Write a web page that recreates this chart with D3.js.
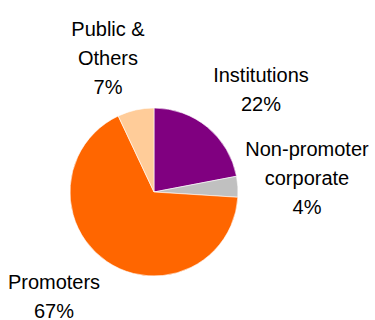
<!DOCTYPE html>
<html>
<head>
<meta charset="utf-8">
<script src="https://cdn.jsdelivr.net/npm/d3@7"></script>
<style>
  html, body { margin: 0; padding: 0; background: #fff; }
  svg { display: block; font-family: "Liberation Sans", Arial, sans-serif; }
</style>
</head>
<body>
<svg id="chart" width="375" height="320"></svg>
<script>
// Shareholding pattern, slices drawn clockwise from 12 o'clock
const categories = ["Institutions", "Non-promoter corporate", "Promoters", "Public & Others"];
const shares = [22, 4, 67, 7];
const colors = ["#800080", "#C0C0C0", "#FF6600", "#FFCC99"];
// Label lines for each slice (value line is appended from shares)
const labelLines = [["Institutions"], ["Non-promoter", "corporate"], ["Promoters"], ["Public &", "Others"]];

const svg = d3.select("#chart");
const cx = 154, cy = 192, r = 84;

const pie = d3.pie().sort(null).value(d => d.value);
const arc = d3.arc().innerRadius(0).outerRadius(r);
const data = categories.map((c, i) => ({ name: c, value: shares[i], color: colors[i], lines: labelLines[i] }));
const arcs = pie(data);

const g = svg.append("g").attr("transform", `translate(${cx},${cy})`);
g.selectAll("path")
  .data(arcs)
  .join("path")
  .attr("d", arc)
  .attr("fill", d => d.data.color)
  .attr("stroke", "#fff")
  .attr("stroke-width", 0.6);

// Label anchor positions (text centre x, first baseline y) per slice
const labelPos = [
  { x: 261, y: 82 },
  { x: 307, y: 156 },
  { x: 54, y: 289 },
  { x: 108, y: 36 }
];
const lineH = 29;

const labels = svg.append("g")
  .attr("font-size", 20)
  .attr("fill", "#000")
  .attr("text-anchor", "middle");

arcs.forEach((d, i) => {
  const lines = d.data.lines.concat([d3.format("d")(d.data.value) + "%"]);
  const t = labels.append("text")
    .attr("x", labelPos[i].x)
    .attr("y", labelPos[i].y);
  lines.forEach((ln, j) => {
    t.append("tspan")
      .attr("x", labelPos[i].x)
      .attr("dy", j === 0 ? 0 : lineH)
      .text(ln);
  });
});
</script>
</body>
</html>
